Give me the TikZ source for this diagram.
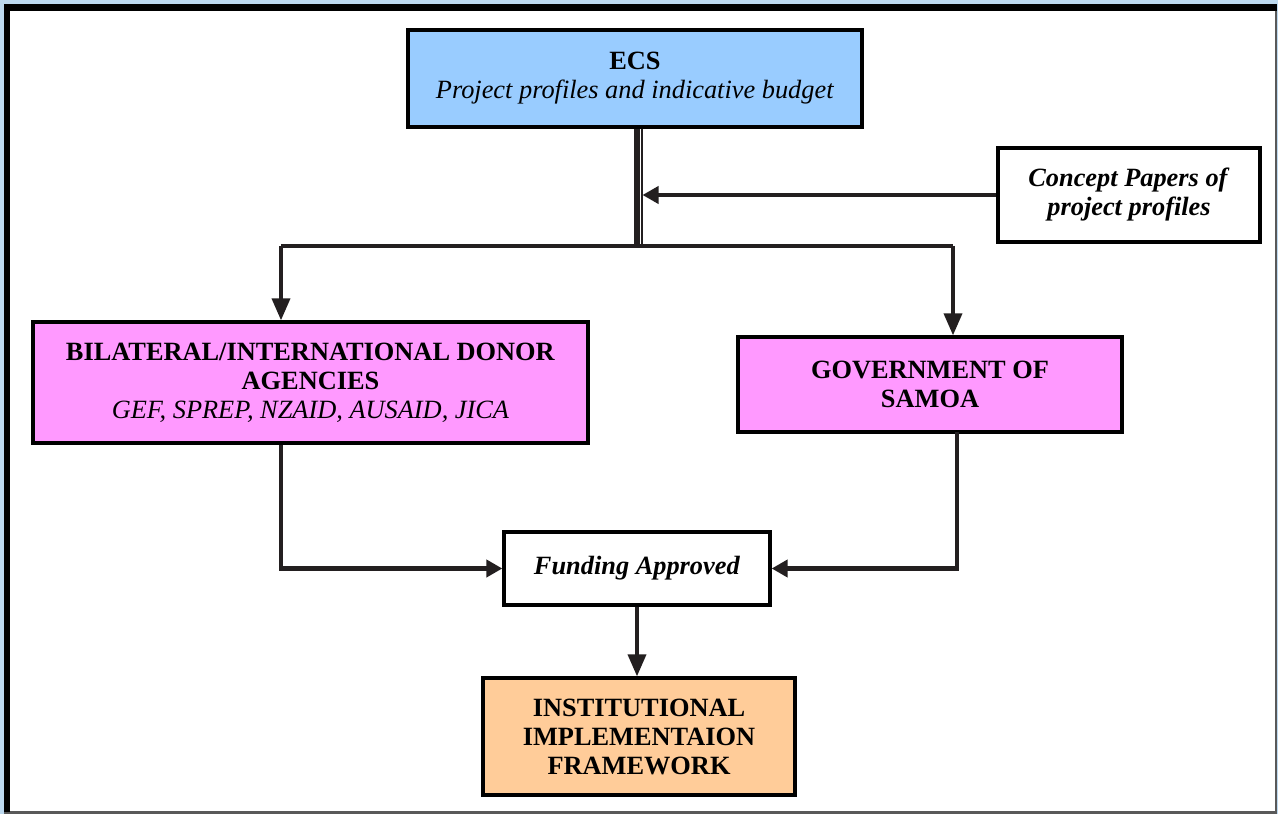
\documentclass[tikz,border=0pt]{standalone}
\usepackage{fontspec}
\setmainfont{Liberation Serif}
\usepackage{xcolor}
\usepackage{tikz}
\usetikzlibrary{positioning, arrows.meta, calc}

\definecolor{ecsblue}{HTML}{99CCFF}
\definecolor{donorpink}{HTML}{FF99FF}
\definecolor{instorange}{HTML}{FFCC99}
\definecolor{framebg}{HTML}{BDD9EF}
\definecolor{linedark}{HTML}{231F20}

\tikzset{
	box/.style={draw, line width=1.9pt, align=center, inner sep=2pt, font=\fontsize{15}{16.5}\selectfont},
	conn/.style={line width=2.1pt, linedark},
	arr/.style={conn, -{Triangle[length=0.44cm, width=0.36cm]}},
	harr/.style={conn, -{Triangle[length=0.32cm, width=0.34cm]}}
}

\begin{document}
\begin{tikzpicture}[x=0.02cm, y=-0.02cm]
	\useasboundingbox (0,0) rectangle (1278,814);
	% Frame round the chart
	\fill[framebg] (0,0) rectangle (1278,814);
	\fill[black!65] (4,4) rectangle (1277,814);
	\fill[black] (4,4) rectangle (1277,11);
	\fill[black] (4,4) rectangle (10,812);
	\fill[white] (10,11) rectangle (1275,811);
	
	% Boxes
	\node[box, fill=ecsblue, minimum width=9.08cm, minimum height=1.94cm] (ecs) at (635,78.5)
	{\textbf{ECS}\\\textit{Project profiles and indicative budget}};
	\node[box, fill=white, minimum width=5.24cm, minimum height=1.88cm] (concept) at (1129,195)
	{\textbf{\textit{Concept Papers of}}\\\textbf{\textit{project profiles}}};
	\node[box, fill=donorpink, minimum width=11.1cm, minimum height=2.42cm] (donor) at (310.5,382.5)
	{\textbf{BILATERAL/INTERNATIONAL DONOR}\\\textbf{AGENCIES}\\\textit{GEF, SPREP, NZAID, AUSAID, JICA}};
	\node[box, fill=donorpink, minimum width=7.68cm, minimum height=1.9cm] (gov) at (930,384.5)
	{\textbf{GOVERNMENT OF}\\\textbf{SAMOA}};
	\node[box, fill=white, minimum width=5.32cm, minimum height=1.46cm] (fund) at (637,568.5)
	{\textbf{\textit{Funding Approved}}};
	\node[box, fill=instorange, minimum width=6.24cm, minimum height=2.34cm] (inst) at (639,736.5)
	{\textbf{INSTITUTIONAL}\\\textbf{IMPLEMENTAION}\\\textbf{FRAMEWORK}};
	
	% Split points
	\coordinate (split) at (637,246);
	\coordinate (lsplit) at (281,246);
	\coordinate (rsplit) at (953,246);
	\coordinate (gdrop) at (957,432);
	
	% Double line down from ECS
	\draw[linedark, line width=3.2pt] (ecs.south -| split) -- (split);
	\draw[linedark, line width=1.3pt] ($(ecs.south -| split)+(4.8,0)$) -- ($(split)+(4.8,0)$);
	\draw[harr] (concept.west) -- ($(split |- concept.west)+(5.5,0)$);
	
	% Down to donors and government
	\draw[conn] (lsplit) -- (rsplit);
	\draw[arr] (lsplit) -- (lsplit |- donor.north);
	\draw[arr] (rsplit) -- (rsplit |- gov.north);
	
	% Into funding
	\draw[harr, line width=2.4pt] (lsplit |- donor.south) |- (fund.west);
	\draw[harr, line width=2.4pt] (gdrop) |- (fund.east);
	\draw[arr] (fund.south -| split) -- (inst.north -| split);
	
\end{tikzpicture}
\end{document}
